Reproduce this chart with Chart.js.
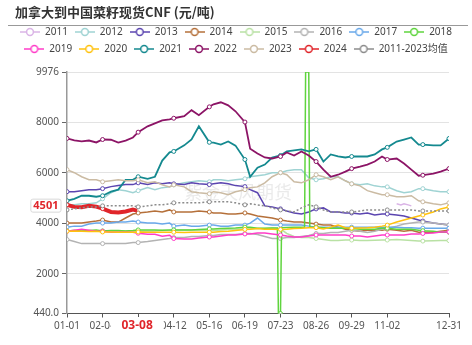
<!DOCTYPE html>
<html>
<head>
<meta charset="utf-8">
<script src="https://cdn.jsdelivr.net/npm/chart.js"></script>
<style>
  html, body { margin: 0; padding: 0; background: #fff; }
  #wrap { width: 472px; height: 345px; }
</style>
</head>
<body>
<div id="wrap"><canvas id="myChart" width="472" height="345"></canvas></div>
<script>
// day of year (0 = 01-01, 365 = 12-31, leap year axis)
const days = [0,7,14,21,28,34,42,49,56,63,68,77,84,91,98,102,112,119,126,136,140,147,154,161,170,175,182,189,196,204,210,217,224,231,238,245,252,259,266,272,280,287,294,301,306,315,322,329,336,340,350,357,365];
const days2011 = [315,319,322,326,329];
const days2018 = [0,7,14,21,28,34,42,49,56,63,68,77,84,91,98,102,112,119,126,136,140,147,154,161,170,175,182,189,196,201,202,204,205,210,217,224,227,228,231,232,238,245,252,259,266,272,280,287,294,301,306,315,322,329,336,340,350,357,365];
const days2024 = [0,7,14,21,28,34,42,49,56,63,67];

const s2011 = [4770,4730,4770,4730,4690];
const s2012 = [4730,4730,4770,4770,4810,4970,5210,5330,5290,5210,5290,5410,5330,5410,5440,5520,5600,5640,5680,5640,5720,5720,5680,5720,5760,5840,5880,5920,6000,6000,6080,6120,6120,5800,5720,5760,5840,5840,5680,5560,5520,5560,5480,5440,5440,5290,5210,5250,5370,5370,5290,5250,5250];
const s2013 = [5250,5250,5290,5330,5330,5370,5450,5490,5530,5530,5600,5530,5600,5560,5600,5560,5530,5600,5560,5530,5560,5600,5560,5490,5450,5330,5210,4690,4650,4570,4490,4410,4370,4450,4570,4610,4450,4450,4410,4410,4370,4410,4330,4370,4370,4330,4290,4210,4130,4090,4010,3970,3930];
const s2014 = [4010,4010,4010,4050,4090,4130,4050,4050,4210,4370,4410,4450,4490,4450,4530,4450,4450,4450,4490,4450,4410,4410,4370,4370,4410,4370,4290,4250,4210,4130,4090,4050,4050,4010,3970,3930,3930,3850,3770,3730,3690,3730,3730,3730,3770,3730,3690,3730,3650,3650,3650,3690,3730];
const s2015 = [3700,3720,3700,3690,3700,3690,3680,3690,3700,3700,3690,3690,3700,3720,3730,3740,3740,3740,3730,3720,3720,3740,3760,3760,3780,3790,3800,3800,3820,3780,3600,3480,3440,3440,3400,3360,3320,3320,3340,3340,3320,3320,3330,3340,3340,3360,3340,3320,3300,3300,3310,3320,3320];
const s2016 = [3360,3280,3200,3200,3200,3200,3200,3200,3200,3240,3240,3280,3320,3360,3400,3440,3440,3480,3480,3520,3520,3560,3560,3560,3600,3600,3560,3480,3400,3400,3440,3440,3480,3520,3600,3600,3640,3640,3690,3730,3690,3640,3690,3770,3810,3890,3970,4010,4050,4050,4010,3970,3930];
const s2017 = [3850,3890,3890,3970,4010,4010,4010,4050,4050,4090,4050,4010,4010,3970,4010,3890,3930,3890,3890,3930,3930,3890,3890,3930,3930,4010,4210,3970,3930,3930,3930,3930,3930,3890,3850,3850,3850,3850,3850,3850,3850,3850,3850,3850,3850,3850,3830,3830,3810,3810,3810,3810,3810];
const s2018 = [3700,3720,3700,3720,3740,3700,3720,3720,3700,3720,3740,3740,3740,3730,3740,3740,3740,3740,3760,3780,3780,3800,3810,3820,3850,3850,3810,3810,3820,3820,440,440,3830,3840,3850,3850,3850,9976,9976,3850,3850,3830,3810,3810,3810,3800,3770,3770,3770,3810,3810,3770,3770,3770,3730,3710,3690,3650,3650];
const s2019 = [3690,3730,3770,3730,3690,3690,3650,3650,3650,3650,3610,3570,3570,3490,3530,3400,3380,3380,3420,3460,3460,3500,3540,3540,3580,3580,3620,3620,3580,3540,3500,3460,3460,3500,3540,3540,3540,3540,3540,3500,3500,3460,3500,3540,3540,3540,3540,3580,3580,3600,3620,3660,3660];
const s2020 = [3690,3700,3690,3680,3690,3660,3660,3650,3650,3650,3660,3650,3650,3650,3650,3650,3640,3650,3650,3650,3650,3680,3690,3720,3760,3770,3800,3770,3770,3760,3770,3800,3810,3830,3830,3780,3850,3930,3830,3810,3820,3830,3850,3890,3930,4050,4130,4210,4290,4330,4450,4570,4650];
const s2021 = [4890,4970,5090,5090,5050,5090,5250,5330,5720,5720,5840,5760,5840,6480,6800,6840,7080,7310,7830,7200,7190,7110,7230,7070,6520,5840,6200,6320,6600,6680,6840,6880,6920,6840,6920,6440,6720,6640,6600,6640,6640,6640,6720,6920,7000,7230,7310,7390,7110,7110,7080,7080,7350];
const s2022 = [7353,7273,7234,7270,7195,7310,7300,7190,7270,7390,7600,7830,7950,8068,8108,8150,8230,8470,8270,8600,8700,8780,8660,8425,8000,6950,6760,6600,6560,6640,6800,6680,6840,6680,6440,6120,5840,5920,6040,6160,6240,6320,6440,6640,6520,6560,6360,6120,5880,5900,5960,6040,6160];
const s2023 = [6121,6000,5840,5720,5720,5640,5680,5720,5680,5680,5720,5600,5640,5520,5440,5520,5440,5250,5210,5170,5250,5210,5130,5250,5330,5410,5440,5600,5840,6000,5920,5640,5600,5720,5920,5840,5720,5840,5680,5560,5480,5290,5210,5130,5130,5050,5050,5090,4890,4850,4770,4730,4810];
const s2024 = [4730,4650,4640,4690,4660,4580,4450,4430,4470,4540,4501];
const sAvg = [4530,4570,4610,4650,4650,4690,4690,4690,4690,4690,4650,4690,4730,4730,4770,4810,4810,4810,4810,4850,4850,4850,4850,4810,4730,4770,4730,4690,4610,4530,4490,4450,4610,4730,4650,4530,4450,4450,4450,4450,4490,4530,4530,4530,4530,4530,4530,4530,4490,4490,4490,4490,4490];

const seriesNames = ['2011','2012','2013','2014','2015','2016','2017','2018','2019','2020','2021','2022','2023','2024','2011-2023均值'];
const seriesColors = ['#dab4e6','#9fd3d3','#5b45b0','#b5703a','#b9e1a4','#b3b3b3','#6aa9ea','#5fd43e','#ff3dc8','#ffc20e','#14898f','#8c1466','#cbbba3','#e0252a','#8c8c8c'];

const xTickDays = [0,34,68,102,136,170,204,238,272,306,365];
const xTickLabels = ['01-01','02-04','03-09','04-12','05-16','06-19','07-23','08-26','09-29','11-02','12-31'];
const yTicks = [440,2000,4000,6000,8000,9976];
const yTickLabels = ['440.0','2000','4000','6000','8000','9976'];
const markerDays = [0,34,68,102,136,170,204,238,272,306,340,365];
const todayDay = 67;
const todayLabel = '03-08';
const titleText = '加拿大到中国菜籽现货CNF (元/吨)';

const FONT = "'Noto Sans', 'Noto Sans CJK SC', sans-serif";

const seriesDays = [days2011, days, days, days, days, days, days, days2018, days, days, days, days, days, days2024, days];
const seriesVals = [s2011, s2012, s2013, s2014, s2015, s2016, s2017, s2018, s2019, s2020, s2021, s2022, s2023, s2024, sAvg];

function makeIcon(color) {
  const c = document.createElement('canvas');
  c.width = 20; c.height = 10;
  const g = c.getContext('2d');
  g.strokeStyle = color;
  g.lineWidth = 1.5;
  g.beginPath(); g.moveTo(0, 5); g.lineTo(20, 5); g.stroke();
  g.beginPath(); g.arc(10, 5, 3.4, 0, Math.PI * 2);
  g.fillStyle = '#fff'; g.fill(); g.stroke();
  return c;
}
const icons = seriesColors.map(makeIcon);

const datasets = seriesNames.map((name, i) => ({
  label: name,
  data: seriesDays[i].map((d, k) => ({ x: d, y: seriesVals[i][k] })),
  borderColor: seriesColors[i],
  backgroundColor: seriesColors[i],
  borderWidth: i === 13 ? 4 : (i === 10 || i === 11 ? 1.8 : 1.5),
  borderDash: i === 14 ? [2, 2] : [],
  pointRadius: ctx => (ctx.raw && markerDays.includes(ctx.raw.x)) ? 2 : 0,
  pointBorderWidth: 1,
  pointBackgroundColor: '#fff',
  pointBorderColor: seriesColors[i],
  order: seriesNames.length - i,
  tension: 0
}));

// push the plot down a little below the legend
const legendGap = {
  id: 'legendGap',
  afterInit(chart) {
    const lg = chart.legend;
    const fit = lg.fit;
    lg.fit = function () { fit.call(this); this.height += 8; };
  }
};

const overlay = {
  id: 'overlay',
  beforeDatasetsDraw(chart) {
    const { ctx, chartArea } = chart;
    ctx.save();
    ctx.font = "18px 'Noto Sans CJK SC', sans-serif";
    ctx.fillStyle = 'rgba(160,160,160,0.22)';
    ctx.textAlign = 'center';
    ctx.textBaseline = 'middle';
    ctx.fillText('紫金天风期货', (chartArea.left + chartArea.right) / 2 - 20, 192);
    ctx.restore();
  },
  afterDraw(chart) {
    const { ctx, scales: { x, y } } = chart;
    ctx.save();
    // title + rule
    ctx.font = "bold 13px 'Noto Sans CJK SC', sans-serif";
    ctx.fillStyle = '#333';
    ctx.textAlign = 'left';
    ctx.textBaseline = 'middle';
    ctx.fillText(titleText, 15, 12);
    ctx.strokeStyle = '#999';
    ctx.lineWidth = 1;
    ctx.beginPath(); ctx.moveTo(8, 25.5); ctx.lineTo(468, 25.5); ctx.stroke();

    // latest 2024 value on the y axis
    const last = s2024[s2024.length - 1];
    const ly = y.getPixelForValue(last) - 5;
    ctx.font = 'bold 11px ' + FONT;
    const tw = ctx.measureText(String(last)).width;
    const bx = 61 - tw - 5;
    ctx.fillStyle = '#fff';
    ctx.strokeStyle = '#d8d8d8';
    ctx.beginPath();
    ctx.roundRect(bx, ly - 6.5, tw + 5, 13, 2);
    ctx.fill(); ctx.stroke();
    ctx.fillStyle = '#e0252a';
    ctx.textAlign = 'left';
    ctx.fillText(String(last), bx + 2.5, ly + 0.5);

    // current date on the x axis
    const cx = x.getPixelForValue(todayDay);
    ctx.font = 'bold 12px ' + FONT;
    const dw = ctx.measureText(todayLabel).width;
    ctx.fillStyle = '#fff';
    ctx.fillRect(cx - dw / 2 - 11, 317, dw + 22, 17);
    ctx.fillStyle = '#e0252a';
    ctx.textAlign = 'center';
    ctx.fillText(todayLabel, cx, 326);
    ctx.restore();
  }
};

const config = {
  type: 'line',
  data: { datasets },
  options: {
    responsive: false,
    animation: false,
    devicePixelRatio: 1,
    layout: { padding: { top: 20, left: 5, right: 5, bottom: 0 } },
    plugins: {
      title: { display: false },
      tooltip: { enabled: false },
      legend: {
        position: 'top',
        labels: {
          usePointStyle: true,
          pointStyleWidth: 20,
          padding: 7,
          color: '#444',
          font: { family: FONT, size: 10 },
          sort: (a, b) => a.datasetIndex - b.datasetIndex,
          generateLabels: chart => Chart.defaults.plugins.legend.labels.generateLabels(chart)
            .map(it => Object.assign(it, { pointStyle: icons[it.datasetIndex] }))
        }
      }
    },
    scales: {
      x: {
        type: 'linear',
        min: 0,
        max: 365,
        afterBuildTicks: s => { s.ticks = xTickDays.map(v => ({ value: v })); },
        afterFit: s => { s.height = 31.5; s.paddingRight = 23; s.paddingLeft = 0; },
        ticks: {
          autoSkip: false,
          maxRotation: 0,
          padding: 3,
          color: '#555',
          font: { family: FONT, size: 10 },
          callback: v => xTickLabels[xTickDays.indexOf(v)]
        },
        grid: { drawOnChartArea: false, tickLength: 4, color: '#555' },
        border: { color: '#555', width: 1 }
      },
      y: {
        type: 'linear',
        min: 440,
        max: 9976,
        afterBuildTicks: s => { s.ticks = yTicks.map(v => ({ value: v })); },
        afterFit: s => { s.width = 62; },
        ticks: {
          padding: 3,
          color: '#555',
          font: { family: FONT, size: 10 },
          callback: v => yTickLabels[yTicks.indexOf(v)]
        },
        grid: {
          color: c => (c.tick && c.tick.value === 440) ? 'rgba(0,0,0,0)' : '#e3e3e3',
          tickColor: '#666',
          tickLength: 5
        },
        border: { color: '#999', width: 1.5 }
      }
    }
  },
  plugins: [legendGap, overlay]
};

const myChart = new Chart(document.getElementById('myChart'), config);
</script>
</body>
</html>
